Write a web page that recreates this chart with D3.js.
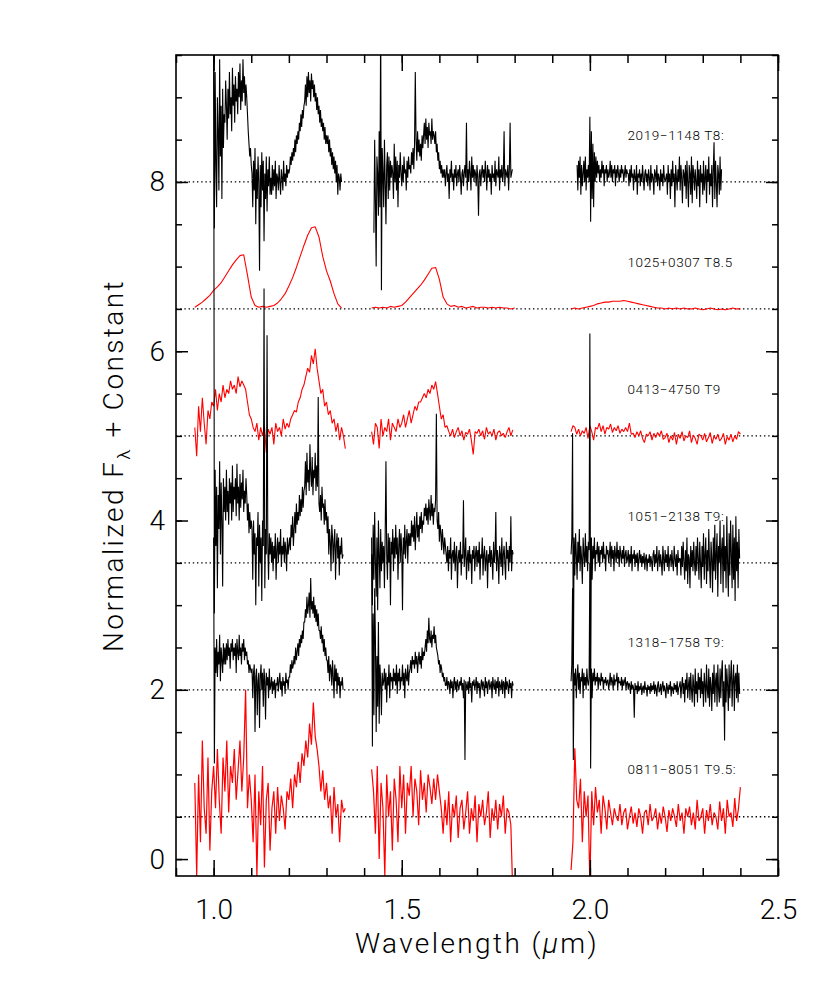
<!DOCTYPE html>
<html>
<head>
<meta charset="utf-8">
<script src="https://cdn.jsdelivr.net/npm/d3@7/dist/d3.min.js"></script>
<style>
	body{ margin:0; background:#fff; }
	text{ font-family: Roboto, "Liberation Sans", sans-serif; font-weight:300; }
</style>
</head>
<body>
<svg id="chart" width="830" height="988"></svg>
<script>
// objects, spectral types and vertical offsets (top to bottom)
var names = ["2019\u22121148", "1025+0307", "0413\u22124750", "1051\u22122138", "1318\u22121758", "0811\u22128051"];
var spTypes = ["T8:", "T8.5", "T9", "T9:", "T9:", "T9.5:"];
var offsets = [8, 6.5, 5, 3.5, 2, 0.5];
var lineColors = ["#000000", "#ff0000", "#ff0000", "#000000", "#000000", "#ff0000"];
var lineWidths = [1.1, 1.1, 1.1, 1.1, 1.1, 1.2];

var xTicksMajor = [1.0, 1.5, 2.0, 2.5];
var yTicksMajor = [0, 2, 4, 6, 8];

// wavelength limits of each band (um), flux normalised, sampled evenly across each band
var bands2019 = [[1.000, 1.340], [1.426, 1.794], [1.966, 2.350]];
var flux2019YJ = [2.0,-.55,1.3,.2,-.3,1.0,.6,-.1,1.45,.3,.9,-.2,1.1,.4,.8,
	.7,1.2,.9,.5,1.1,.75,1.3,.8,1.0,.6,1.35,.9,1.15,.7,1.25,.95,1.1,.8,1.3,1.0,1.4,.85,1.2,.95,1.45,1.05,1.25,.9,1.15,1.0,
	.8,.6,.45,.3,.4,.2,
	.1,-.3,.25,-.1,.4,-.5,.15,-.2,.3,0,-1.05,.2,-.3,.35,-.1,.25,-.7,.1,-.2,.3,-.35,.15,-.05,.3,-.15,
	.05,-.15,.2,-.1,.15,-.05,.25,-.2,.1,.05,-.1,.2,0,-.15,.15,.05,-.1,.25,0,.1,-.05,.2,.05,.15,.1,
	.15,.3,.2,.35,.25,.4,.3,.5,.35,.55,.45,.6,.5,.7,.6,.8,.65,.85,.75,.9,
	.95,1.15,.9,1.25,1.0,1.3,1.05,1.2,.95,1.28,1.1,1.2,1.0,1.15,.95,
	1.05,.85,1.0,.8,.9,.7,.85,.65,.75,.6,.7,.5,.65,.45,.55,
	.45,.55,.35,.5,.3,.4,.2,.35,.15,.3,.1,.25,0,.2,-.15,.1,.05,-.1,.1,0];
var flux2019H = [-.6,.5,-.2,-1.0,.3,.1,-.4,.6,-.3,2.0,-1.28,.4,.1,-.3,.5,0,-.5,.2,.35,-.2,.3,-.1,.25,.05,.2,
	.1,-.2,.45,0,.3,-.1,.25,-.3,.2,.05,.35,.1,-.05,.2,0,.3,.1,.15,-.1,.25,.05,.3,.15,.2,.1,.35,
	.2,.4,.15,.45,1.3,.5,.25,.6,.35,.5,.3,.45,.25,.55,.4,
	.55,.7,.45,.75,.5,.65,.4,.7,.55,.6,.45,.75,.5,.6,.55,
	.45,.6,.35,.45,.25,.35,.15,.25,.1,.2,.05,.15,
	.05,.15,-.05,.1,.2,0,.1,-.2,.15,.05,.25,0,.1,-.1,.15,.05,.2,-.05,.1,.15,
	0,.2,.05,-.15,.1,.15,-.05,.1,.2,.05,.7,-.1,.15,0,.25,.1,-.1,.3,.05,.2,
	0,.15,.1,-.05,.2,.05,-.4,.1,.15,-.05,.1,.2,.05,.15,0,.25,.1,-.1,.2,.05,
	.15,0,.1,-.15,.2,.05,.1,0,.25,-.05,.15,.1,.05,.3,-.1,.15,.05,.2,0,.1,
	.6,-.05,.15,.1,.05,.2,-.1,.15,.7,.05,.1,.15];
var flux2019K = [.2,-.1,.25,.05,.3,-.15,.2,-.05,.1,.25,0,.3,-.1,.15,.05,.2,0,
	.77,-.47,.6,-.2,.45,-.3,
	.35,0,.3,.05,.25,.1,.2,0,.15,.05,.25,.1,.2,-.05,.15,.1,.2,0,.15,.05,
	.1,.25,.05,.2,0,.15,.1,.2,-.05,.15,.05,.2,.1,0,.15,.05,.2,.1,.15,0,
	.1,.2,.05,.15,.1,
	.1,-.05,.15,0,.2,.05,.1,-.1,.15,.05,0,.2,-.15,.1,.05,.15,-.05,.1,0,.2,
	.05,-.1,.1,.15,0,.1,-.05,.15,.05,-.1,.2,0,.1,.05,-.15,.15,.1,0,.2,-.05,
	.1,.05,-.1,.15,0,.1,-.05,.2,.05,0,
	.05,.1,-.15,.2,0,.1,-.2,.15,-.05,.25,0,.1,-.3,.2,.05,-.1,.15,0,.3,-.1,
	.2,.05,-.25,.15,.1,-.05,.2,-.2,.25,0,-.3,.2,.1,-.15,.3,-.25,.2,.1,-.1,.15,
	0,-.2,.25,-.05,.15,-.3,.2,0,.1,-.15,.25,-.1,.05,.2,-.25,.15,0,.3,-.15,.1,
	-.05,.2,-.3,.15,.47,-.2,.25,0,-.3,.2,.1,-.15,.3,-.1,.15];

var bands1025 = [[0.950, 1.340], [1.420, 1.800], [1.950, 2.400]];
var flux1025YJ = [.02,.05,.08,.12,.16,.22,.26,.31,.38,.45,.52,.58,.63,.64,.4,.14,.04,.02,.03,.02,
	.03,.04,.07,.12,.18,.27,.37,.49,.62,.75,.87,.96,.97,.85,.62,.45,.33,.18,.06,.01];
var flux1025H = [.01,.02,.01,.02,.01,.03,.02,.03,.04,.08,.13,.18,.23,.28,.34,.41,.48,.49,.35,.14,
	.06,.03,.04,.02,.03,.01,.02,.03,.01,.02,.02,.01,.02,.01,.02,.01,.01,0,.01];
var flux1025K = [0,.01,0,.01,.02,.03,.04,.06,.07,.08,.08,.09,.09,.09,.1,.09,.08,.07,.06,.05,.04,.03,.02,
	.01,.01,0,.01,0,.01,0,.01,0,0,.01,0,-.01,0,.01,0,-.01,0,-.01,0,.01,0,0];

var bands0413 = [[0.950, 1.350], [1.420, 1.795], [1.950, 2.400]];
var flux0413YJ = [.1,-.24,.35,.05,.45,.15,-.1,.3,.2,.4,
	.35,.55,.3,.5,.4,.6,.45,.55,.5,.65,
	.55,.6,.5,.7,.58,.65,.6,.55,
	.4,.25,.2,
	.1,.05,.15,-.05,.1,0,.12,-.2,.08,.02,.1,-.1,.15,.05,.1,0,.2,.08,.15,.1,
	.2,.25,.3,.28,.4,.45,.55,.6,
	.7,.8,.75,.95,.85,1.03,.8,
	.65,.5,.55,.35,.4,
	.25,.3,.15,.2,.05,.15,-.05,.1,0,-.15];
var flux0413H = [.05,-.1,.15,.1,-.15,.2,0,.1,.05,.2,-.05,.15,.1,.05,.2,.1,
	.15,.25,.1,.2,.3,.15,.25,.35,.3,.4,
	.4,.45,.5,.45,.55,.5,.6,.55,.64,.5,
	.35,.2,.25,.1,.12,
	.05,0,.08,-.02,.05,.1,0,.06,-.05,.04,.02,.08,-.05,-.22,.05,.03,.08,0,.06,-.04,.1,.02,.05,0,.08,-.05,.04,.06,0,.03,-.02,.05,.1,0,.07];
var flux0413K = [.05,.12,.1,.02,.08,0,.06,.03,.1,-.03,.12,.05,-.05,.1,.08,.15,.05,.12,.02,.1,.08,.14,.04,.1,.06,.12,.03,.08,.05,.1,
	.05,.15,.02,.03,-.02,.05,0,.06,-.03,-.08,.02,0,.05,-.05,.03,-.02,.04,0,.06,-.04,
	-.02,.03,-.08,0,-.05,.04,-.1,.02,-.03,.05,-.06,0,-.02,.06,-.08,.01,-.03,-.1,.02,0,-.05,.03,-.07,-.02,.04,-.09,0,-.04,.02,-.06,-.03,.03,-.1,-.01,-.05,.02,-.07,0,-.04,.05,.02];

var bands1051 = [[1.000, 1.344], [1.420, 1.796], [1.950, 2.398]];
var flux1051YJ = [7.0,-.6,1.1,.2,.9,-.3,.8,.4,1.2,.1,.95,.5,-.28,1.0,.6,
	.9,.5,1.1,.6,.85,.45,1.0,.7,.95,.5,1.15,.6,.9,.75,1.0,.55,1.17,.7,.9,.5,1.05,.65,.95,.75,1.1,.6,.85,.7,1.0,.8,
	.5,.7,.35,.6,.4,.5,
	.4,-.2,.5,.1,.35,-.5,.3,.2,.6,-.28,.45,0,.3,-.45,.5,.2,3.24,-.3,.4,.1,2.69,.2,-.2,.35,.1,
	.3,0,.25,-.1,.2,.05,.35,-.2,.15,.3,0,.25,.1,.4,-.05,.2,.1,.3,0,.25,.15,-.1,.3,.1,.2,
	.3,.15,.45,.3,.55,.2,.4,.6,.35,.7,.45,.6,.5,.8,.55,.75,.6,.9,.65,.85,
	.9,1.2,.8,1.3,.95,1.1,.85,1.4,1.05,.9,1.25,.8,1.1,1.0,1.3,.85,1.15,.9,1.96,.7,
	.6,.8,.5,.9,.65,.7,.45,.75,.5,.6,
	.35,.55,.1,.4,.25,-.1,.45,.3,0,.25,.4,-.2,.2,.35,.05,.3,-.15,.2,.1,.3,.05,.1];
var flux1051H = [.1,-.5,.45,-.2,.6,0,-.4,.3,-.56,.5,.1,-.3,.4,-.1,.25,0,
	.2,-.3,.35,1.2,.1,-.2,.35,0,.3,-.5,.25,.1,.4,-.1,.3,.05,.45,.1,.3,-.2,.2,.4,0,.35,.15,-.56,.3,.1,.45,.05,.25,.4,0,.35,.2,
	.35,.2,.5,.3,.45,.25,.55,.15,.4,.6,.3,.45,.25,.55,.4,.6,.35,.5,.45,.65,
	.55,.7,.5,.65,.45,.75,.6,.5,.8,.55,.7,.45,.65,.6,.75,1.76,
	.5,.4,.6,.25,.45,.35,.15,.4,.25,.1,.3,.2,
	.1,0,.2,-.1,.15,.05,.3,-.2,.1,.15,0,.25,-.1,.1,.2,-.3,.05,.15,0,.25,
	-.15,.1,.05,.74,-.05,.1,.3,-.2,.05,.15,-.1,.2,0,.1,-.25,.15,.05,.2,-.1,.1,
	.2,-.05,.15,0,.25,-.2,.1,.05,.3,-.15,.1,.2,-.1,.05,.15,-.3,.1,0,.2,-.05,
	.15,.05,-.2,.25,0,.1,.6,-.1,.15,.05,-.25,.2,.1,-.05,.3,-.15,.1,.2,0,-.2,
	.25,.05,.15,-.1,.2,0,.55,-.1,.15,.1];
var flux1051K = [.1,.3,1.53,-1.4,
	.3,-.15,.35,.1,-.2,.25,0,.4,-.1,.2,.05,-.25,.3,.1,-.05,.35,0,.2,-.1,.25,.15,
	2.71,-1.6,.3,-.2,
	.2,.05,.3,-.1,.15,.1,.25,0,.2,-.05,.15,.1,.2,0,.25,.05,.1,-.1,.2,.1,
	.15,0,.1,.25,-.05,.2,.05,.15,-.1,.2,.1,0,.25,.05,.15,-.05,.2,.1,0,.15,
	.05,.2,-.05,.1,.15,0,
	.05,.15,-.05,.1,0,.2,-.1,.1,.05,.15,-.05,.1,0,.12,-.1,.05,.15,0,.1,-.05,
	.08,0,.12,-.08,.05,.1,-.1,.05,0,.1,-.05,.08,.02,-.1,.1,.15,-.05,.1,0,.2,
	-.1,.05,.15,-.05,.1,0,-.15,.2,.05,-.1,.15,0,.1,-.05,.2,-.1,.05,.1,-.05,.15,
	0,-.1,.2,.05,-.05,.1,-.15,.15,0,.05,
	.05,-.15,.2,-.05,.25,0,-.2,.15,-.1,.3,-.25,.1,.05,-.3,.2,-.05,.15,-.1,.25,0,
	-.15,.2,-.1,.3,.05,-.2,.25,0,-.3,.2,-.05,.35,-.2,.1,.3,-.25,.15,-.1,.4,0,
	-.3,.25,.05,-.35,.3,-.1,.45,-.2,.1,.35,-.4,.2,0,.5,-.25,.15,.3,-.35,.45,-.1,
	.2,-.3,.55,0,-.4,.35,-.15,.5,.1,-.3,.45,-.2,.3,-.45,.55,-.1,.25,-.3,.4,.05];

var bands1318 = [[1.000, 1.344], [1.420, 1.796], [1.950, 2.398]];
var flux1318YJ = [1.8,-.87,.5,.2,.6,.15,.45,.3,.65,.1,.5,.35,.2,.55,.3,
	.5,.3,.55,.35,.6,.4,.5,.25,.55,.45,.6,.35,.5,.4,.55,.2,.6,.45,.35,.65,.4,.5,.3,.55,.45,.6,.35,.5,.4,.45,
	.3,.35,.2,.3,.25,.2,
	.25,-.1,.2,.3,-.5,.15,.25,-.3,.1,.2,-.45,.15,.3,0,.2,-.2,.25,.1,-.35,.2,.05,.15,-.1,.25,0,
	.05,.15,-.05,.1,0,.12,-.1,.08,.05,.15,-.02,.1,.2,0,.1,-.08,.15,.05,.1,-.05,.2,.08,.12,0,.15,
	.15,.3,.2,.35,.25,.3,.4,.3,.5,.35,.45,.55,.4,.6,.5,.65,.55,.7,.6,.8,
	.8,.95,.85,1.1,.9,1.0,1.15,.85,1.32,.95,1.05,.9,1.1,.85,1.0,.8,.95,.75,.9,.7,
	.7,.6,.75,.55,.65,.45,.6,.4,.5,.35,
	.35,.2,.4,.1,.3,.25,.05,.35,.15,-.1,.3,.1,.25,-.05,.2,.05,.15,-.1,.1,.05,.15,0];
var flux1318H = [1.8,-.67,.9,-.3,1.2,.6,-.5,.4,-.2,.8,-.4,.3,.1,-.3,.2,.05,
	.1,.25,0,.2,-.15,.15,.05,.3,-.1,.2,.1,.15,0,.25,.1,.2,.05,.3,-.05,.2,.1,.25,0,.15,.1,.3,.05,.2,-.1,.25,.15,.1,.3,.05,.2,
	.25,.35,.2,.4,.3,.35,.25,.45,.3,.4,.2,.35,.45,.3,.4,.25,.5,.35,.45,.4,
	.5,.6,.45,.7,.55,.85,.6,.55,.7,.5,.65,.6,.75,.55,.65,.5,
	.45,.4,.3,.35,.2,.3,.25,.15,.2,.1,.15,.05,
	.05,.15,0,.1,.08,-.05,.12,.02,.1,-.1,.08,.15,0,.1,-.03,.12,.05,0,.1,.05,
	.15,0,.08,-.1,.12,-.83,.1,.05,0,.1,-.05,.15,.02,.08,-.15,.1,.05,.12,0,.06,
	.15,-.05,.1,.02,.08,-.1,.05,.12,0,.1,.05,-.08,.15,.02,.1,-.05,.08,.12,0,.05,
	.1,-.1,.15,.05,0,.12,-.05,.1,.02,.15,-.08,.1,.05,0,.12,-.05,.1,.08,-.1,.15,
	0,.1,.05,-.05,.12,.02,.08,-.1,.1,.05];
var flux1318K = [.1,.3,1.2,-.83,
	.2,.05,.25,-.1,.15,.3,0,.2,-.05,.15,.1,.25,-.1,.2,.05,.15,0,.25,.1,.05,.15,
	1.5,-.93,.25,-.1,
	.2,.1,.25,.05,.15,.1,.2,0,.15,.12,.05,.2,.1,.15,0,.12,.08,.15,.05,.1,
	.12,0,.08,.2,.05,.15,.1,0,.18,.05,.12,.1,.2,0,.15,.08,.1,.05,.15,0,
	.12,.05,.1,.15,0,.08,
	.1,0,.08,.05,-.05,.1,0,.06,.02,-.33,.08,0,.05,-.05,.1,-.02,.04,0,.08,-.06,
	.02,.05,-.04,.1,0,.03,-.08,.06,0,.04,-.05,.08,-.02,.05,0,.1,-.05,.06,.02,-.08,
	.05,.1,-.03,0,.07,-.06,.04,.1,-.02,.05,0,-.1,.08,.03,-.05,.06,0,.1,-.08,.04,
	.02,-.05,.08,0,.06,-.03,.1,-.06,.02,.05,
	.1,-.1,.05,.15,-.05,.08,-.15,.12,0,.2,-.1,.05,.15,-.12,.2,0,-.15,.18,.05,-.2,
	.25,-.05,.1,-.15,.2,0,.15,-.1,.25,-.05,.1,-.2,.2,.05,-.15,.3,0,-.1,.25,-.2,
	.15,.05,-.25,.2,-.05,.3,-.15,.1,.2,-.2,.3,0,-.15,.25,-.1,.2,.35,-.2,.1,-.6,
	.3,-.15,.25,.05,-.25,.3,-.1,.15,.35,-.2,.1,.3,-.25,.15,.2,-.1,.3,-.15,.2,-.05];

var bands0811 = [[0.950, 1.350], [1.420, 1.795], [1.950, 2.400]];
var flux0811YJ = [.4,-.7,.5,-.3,.9,.1,-.2,.7,-.4,.3,
	.6,.1,.8,.2,-.2,.7,.3,.9,.05,.6,
	.4,.8,.2,.55,.9,.3,.7,1.5,.1,.5,
	.2,-.3,.5,-.7,.3,-.1,.6,-.6,.2,.4,-.4,.1,.3,-.2,.35,-.05,.25,.1,-.15,.3,
	.2,.45,.1,.5,.35,.65,.4,.75,.6,
	.9,.7,1.1,.85,1.35,.95,.8,
	.6,.3,.55,.2,.4,
	.1,.25,-.2,.35,0,.15,-.3,.2,.05,.1];
var flux0811H = [.56,.3,-.2,.6,-.5,.4,.1,-.7,.5,0,.3,-.4,.45,.2,-.3,.6,
	.1,.5,-.2,.4,.25,.6,0,.45,.3,-.1,.55,.2,.4,.05,.5,.35,.15,.45,.2,.5,.3,
	.1,-.2,.2,-.1,.3,-.3,.15,0,.25,-.25,.1,.2,-.15,.05,.3,-.2,.1,-.05,.25,-.3,.15,0,.2,-.1,.05,.3,-.25,.1,-.05,.2,-.15,.15,0,.25,-.2,.1,.05,-.1,
	-.9];
var flux0811K = [-.63,-.3,.81,.2,.1,.45,-.3,.3,0,.25,
	-.8,.3,
	-.1,.35,.05,.2,-.2,.25,.1,-.15,.2,
	.05,-.1,.1,0,-.05,.15,-.1,.05,.1,-.15,0,.12,-.08,.05,-.12,.1,0,-.2,.05,.08,-.1,.15,-.05,0,.1,-.15,.05,-.08,.12,0,-.18,.08,-.05,.1,0,-.12,.15,-.05,.05,-.2,.1,0,.12,-.1,.05,-.15,.2,-.05,0,.1,-.2,.08,-.05,.15,-.1,.05,0,-.15,.18,-.05,.1,-.2,.2,0,.05,-.12,.22,-.05,.1,.35];

var spectra = [
	{ bands: bands2019, flux: [flux2019YJ, flux2019H, flux2019K] },
	{ bands: bands1025, flux: [flux1025YJ, flux1025H, flux1025K] },
	{ bands: bands0413, flux: [flux0413YJ, flux0413H, flux0413K] },
	{ bands: bands1051, flux: [flux1051YJ, flux1051H, flux1051K] },
	{ bands: bands1318, flux: [flux1318YJ, flux1318H, flux1318K] },
	{ bands: bands0811, flux: [flux0811YJ, flux0811H, flux0811K] }
];

var svg = d3.select("#chart");
var plotLeft = 176, plotRight = 778, plotTop = 55, plotBottom = 876;

var x = d3.scaleLinear().domain([0.9, 2.5]).range([plotLeft, plotRight]);
var y = d3.scaleLinear().domain([-0.2, 9.5]).range([plotBottom, plotTop]);

svg.append("defs").append("clipPath").attr("id", "plot-clip")
	.append("rect")
	.attr("x", plotLeft).attr("y", plotTop)
	.attr("width", plotRight - plotLeft).attr("height", plotBottom - plotTop);

// dotted zero levels
svg.append("g").selectAll("line").data(offsets).enter()
	.append("line")
	.attr("x1", plotLeft).attr("x2", plotRight)
	.attr("y1", function(d){ return y(d); })
	.attr("y2", function(d){ return y(d); })
	.attr("stroke", "#000")
	.attr("stroke-width", 1.3)
	.attr("stroke-dasharray", "1.4,2.8");

// spectra, one path per band
var line = d3.line()
	.x(function(p){ return x(p[0]); })
	.y(function(p){ return y(p[1]); });

var gSpec = svg.append("g").attr("clip-path", "url(#plot-clip)");
spectra.forEach(function(s, k){
	s.flux.forEach(function(f, b){
		var lo = s.bands[b][0], hi = s.bands[b][1];
		var pts = f.map(function(v, i){
			return [lo + (hi - lo) * i / (f.length - 1), v + offsets[k]];
		});
		gSpec.append("path")
			.attr("d", line(pts))
			.attr("fill", "none")
			.attr("stroke", lineColors[k])
			.attr("stroke-width", lineWidths[k])
			.attr("stroke-linejoin", "bevel");
	});
});

// labels
svg.append("g").selectAll("text").data(names).enter()
	.append("text")
	.attr("x", x(2.1))
	.attr("y", function(d, i){ return y(offsets[i] + 0.5); })
	.attr("font-family", "'DejaVu Sans', sans-serif")
	.attr("font-size", 13.5)
	.attr("font-weight", 400)
	.attr("letter-spacing", "0.6px")
	.attr("fill", "#000")
	.text(function(d, i){ return d + " " + spTypes[i]; });

// axes: ticks inward on all four sides
var xMinor = d3.range(9, 26).map(function(v){ return v / 10; });
var yMinor = d3.range(0, 20).map(function(v){ return v / 2; });

var styleAxis = function(g){
	g.select(".domain").remove();
	g.selectAll("line").attr("stroke", "#000").attr("stroke-width", 1.5);
	g.selectAll("text")
		.attr("font-family", "Roboto, 'Liberation Sans', sans-serif")
		.attr("font-weight", 300)
		.attr("font-size", 28)
		.attr("fill", "#000");
};

svg.append("g").attr("transform", "translate(0," + plotBottom + ")")
	.call(d3.axisBottom(x).tickValues(xMinor).tickSize(-8).tickFormat(""))
	.call(styleAxis);
svg.append("g").attr("transform", "translate(0," + plotBottom + ")")
	.call(d3.axisBottom(x).tickValues(xTicksMajor).tickSize(-16).tickPadding(23).tickFormat(d3.format(".1f")))
	.call(styleAxis);
svg.append("g").attr("transform", "translate(0," + plotTop + ")")
	.call(d3.axisTop(x).tickValues(xMinor).tickSize(-8).tickFormat(""))
	.call(styleAxis);
svg.append("g").attr("transform", "translate(0," + plotTop + ")")
	.call(d3.axisTop(x).tickValues(xTicksMajor).tickSize(-16).tickFormat(""))
	.call(styleAxis);

svg.append("g").attr("transform", "translate(" + plotLeft + ",0)")
	.call(d3.axisLeft(y).tickValues(yMinor).tickSize(-6).tickFormat(""))
	.call(styleAxis);
svg.append("g").attr("transform", "translate(" + plotLeft + ",0)")
	.call(d3.axisLeft(y).tickValues(yTicksMajor).tickSize(-12).tickPadding(11).tickFormat(d3.format("d")))
	.call(styleAxis);
svg.append("g").attr("transform", "translate(" + plotRight + ",0)")
	.call(d3.axisRight(y).tickValues(yMinor).tickSize(-6).tickFormat(""))
	.call(styleAxis);
svg.append("g").attr("transform", "translate(" + plotRight + ",0)")
	.call(d3.axisRight(y).tickValues(yTicksMajor).tickSize(-12).tickFormat(""))
	.call(styleAxis);

// frame
svg.append("rect")
	.attr("x", plotLeft).attr("y", plotTop)
	.attr("width", plotRight - plotLeft).attr("height", plotBottom - plotTop)
	.attr("fill", "none")
	.attr("stroke", "#000")
	.attr("stroke-width", 1.6);

// axis titles
var xTitle = svg.append("text")
	.attr("x", (plotLeft + plotRight) / 2)
	.attr("y", 953)
	.attr("text-anchor", "middle")
	.attr("font-size", 28)
	.attr("letter-spacing", "2.4px");
xTitle.append("tspan").text("Wavelength (");
xTitle.append("tspan").attr("font-style", "italic").text("\u03bc");
xTitle.append("tspan").text("m)");

var yTitle = svg.append("text")
	.attr("transform", "translate(123," + ((plotTop + plotBottom) / 2) + ") rotate(-90)")
	.attr("text-anchor", "middle")
	.attr("font-size", 28)
	.attr("letter-spacing", "2.4px");
yTitle.append("tspan").text("Normalized F");
yTitle.append("tspan").attr("font-size", 19).attr("dy", 7).text("\u03bb");
yTitle.append("tspan").attr("dy", -7).text(" + Constant");
</script>
</body>
</html>
